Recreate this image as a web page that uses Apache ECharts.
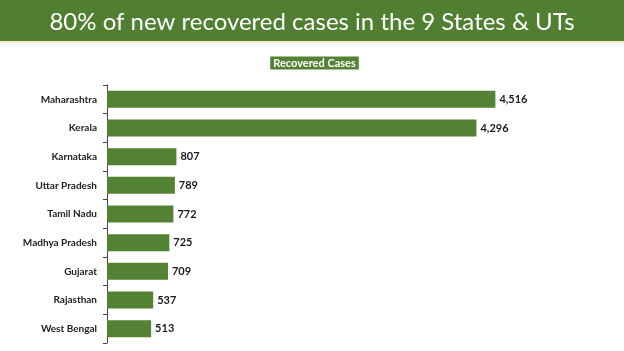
<!DOCTYPE html>
<html>
<head>
<meta charset="utf-8">
<script src="https://cdn.jsdelivr.net/npm/echarts@6/dist/echarts.min.js"></script>
<style>
  html, body { margin: 0; padding: 0; background: #fff; }
  #main { width: 624px; height: 351px; }
</style>
</head>
<body>
<div id="main"></div>
<script>
// states, top to bottom
const states = ["Maharashtra", "Kerala", "Karnataka", "Uttar Pradesh", "Tamil Nadu",
  "Madhya Pradesh", "Gujarat", "Rajasthan", "West Bengal"];
const recovered = [4516, 4296, 807, 789, 772, 725, 709, 537, 513];

const green = "#548235";
const chart = echarts.init(document.getElementById("main"));

chart.setOption({
  animation: false,
  graphic: [
    { type: "rect", left: 0, top: 0, shape: { width: 624, height: 41 }, style: { fill: "#507f31" } },
    { type: "rect", left: 0, top: 41, shape: { width: 624, height: 2 }, style: { fill: "#f3eec8" } }
  ],
  title: {
    text: "80% of new recovered cases in the 9 States & UTs",
    left: "center",
    top: 5,
    textStyle: { color: "#fff", fontFamily: "Lato", fontWeight: "normal", fontSize: 24 }
  },
  legend: {
    data: ["Recovered Cases"],
    top: 51,
    left: "center",
    icon: "none",
    itemWidth: 0,
    itemGap: 0,
    textStyle: {
      color: "#fff", fontFamily: "Lato", fontWeight: "bold", fontSize: 11,
      backgroundColor: green, padding: [1, 3, 1, 3]
    }
  },
  grid: { left: 107, right: 87, top: 85, bottom: 8, containLabel: false },
  xAxis: {
    type: "value",
    min: 0,
    max: 5000,
    show: false
  },
  yAxis: {
    type: "category",
    data: states,
    inverse: true,
    axisLine: { show: true, lineStyle: { color: "#444", width: 1 } },
    axisTick: { show: true, length: 4, lineStyle: { color: "#444" } },
    axisLabel: {
      margin: 10, color: "#222", fontFamily: "Lato", fontWeight: "bold", fontSize: 10
    }
  },
  series: [{
    name: "Recovered Cases",
    type: "bar",
    data: recovered,
    barWidth: 17,
    itemStyle: { color: green },
    label: {
      show: true,
      position: "right",
      distance: 4,
      color: "#1a1a1a",
      fontFamily: "Lato",
      fontWeight: "bold",
      fontSize: 11,
      formatter: p => p.value.toLocaleString("en-US")
    }
  }]
});
</script>
</body>
</html>
